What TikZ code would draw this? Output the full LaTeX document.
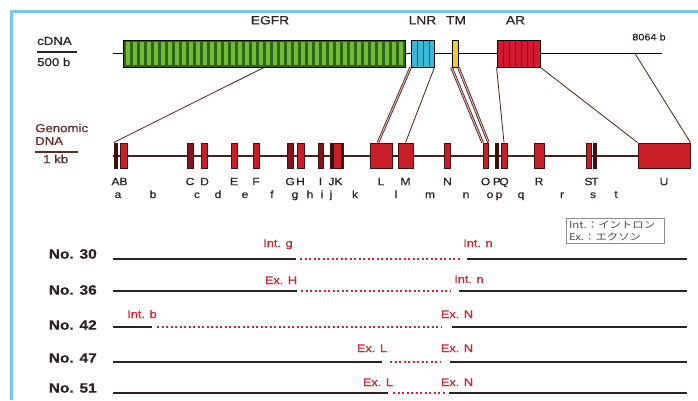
\documentclass[tikz,border=0pt]{standalone}
\usepackage{fontspec}
\setmainfont{Liberation Sans}[FakeStretch=1.15, FakeBold=0.5]
\newfontfamily\jpfont{Noto Sans CJK JP}[FakeStretch=1.2]
\usepackage{tikz}
\usetikzlibrary{positioning, calc}
\definecolor{frameBlue}{RGB}{115, 200, 240}
\definecolor{textDark}{RGB}{45, 35, 35}
\definecolor{textBrown}{RGB}{95, 45, 40}
\definecolor{egfrDark}{RGB}{45, 105, 20}
\definecolor{egfrLight}{RGB}{115, 185, 55}
\definecolor{lnrCyan}{RGB}{55, 185, 215}
\definecolor{lnrLine}{RGB}{25, 85, 120}
\definecolor{tmYellow}{RGB}{235, 205, 50}
\definecolor{arRed}{RGB}{210, 25, 50}
\definecolor{arLine}{RGB}{130, 10, 30}
\definecolor{exonRed}{RGB}{200, 30, 40}
\definecolor{exonMid}{RGB}{130, 20, 30}
\definecolor{exonDark}{RGB}{60, 15, 15}
\definecolor{exonEdge}{RGB}{70, 15, 15}
\definecolor{linkBrown}{RGB}{70, 35, 25}
\definecolor{labelRed}{RGB}{200, 40, 50}

\begin{document}
\begin{tikzpicture}[
    x=1pt, y=-1pt,
    sidelab/.style={font=\fontsize{11.5}{13}\selectfont, text=textDark, inner sep=0pt, anchor=west},
    genelab/.style={font=\fontsize{12}{14}\selectfont, text=textDark, inner sep=0pt, text height=8.6pt, text depth=0pt},
    exlab/.style={font=\fontsize{10.5}{12}\selectfont, text=textDark, inner sep=0pt, text height=7.5pt, text depth=0pt},
    inlab/.style={font=\fontsize{10.5}{12}\selectfont, text=textDark, inner sep=0pt, anchor=base},
    rowlab/.style={font=\bfseries\fontsize{13.5}{15}\selectfont, text=textDark, inner sep=0pt, anchor=east},
    redlab/.style={font=\fontsize{11}{13}\selectfont, text=labelRed, inner sep=0pt, text height=8pt, text depth=2pt},
    cbox/.style={rectangle, draw=black, line width=0.9pt, minimum height=27pt, inner sep=0pt},
    exon/.style={rectangle, draw=exonEdge, fill=exonRed, line width=0.9pt, minimum height=25pt, inner sep=0pt},
    midexon/.style={exon, fill=exonMid},
    darkexon/.style={exon, fill=exonDark},
    link/.style={draw=linkBrown, line width=0.8pt},
    dlink/.style={link, double=exonRed!35, double distance=1pt},
    solidseg/.style={draw=textDark, line width=2.2pt},
    dotseg/.style={draw=labelRed, line width=1.5pt, dash pattern=on 2pt off 2.5pt}
  ]
    \useasboundingbox (0,0) rectangle (698,400);
    \fill[white] (0,0) rectangle (698,400);
    \draw[frameBlue, line width=3pt] (11.5,400) -- (11.5,11.5) -- (698,11.5);

    % cDNA
    \node[sidelab] (cdnaLab) at (37,41) {cDNA};
    \draw[textDark, line width=1.3pt] (37,52) -- (77,52);
    \node[sidelab] (cdnaScale) at (37,62) {500 b};
    \coordinate (cdnaStart) at (113,53.5);
    \coordinate (cdnaEnd) at (662,53.5);
    \coordinate (utr) at (635,53.5);
    \draw[black, line width=1pt] (cdnaStart) -- (cdnaEnd);
    \node[cbox, fill=egfrDark, minimum width=282pt] (egfr) at (264,53.5) {};
    \foreach \x in {126,133,...,399} \fill[egfrLight] (\x,42) rectangle (\x+3.5,65);
    \node[cbox, fill=lnrCyan, minimum width=23pt] (lnr) at (422.5,53.5) {};
    \foreach \x in {417,423,429} \draw[lnrLine, line width=0.8pt] (\x,41) -- (\x,66);
    \node[cbox, fill=tmYellow, minimum width=6pt] (tm) at (455,53.5) {};
    \node[cbox, fill=arRed, minimum width=43pt] (ar) at (518.5,53.5) {};
    \foreach \x in {503.5,509.5,...,535} \draw[arLine, line width=0.9pt] (\x,41) -- (\x,66);

    \node[genelab, above=15pt of egfr, xshift=6pt] (tEGFR) {EGFR};
    \node[genelab, above=15pt of lnr] (tLNR) {LNR};
    \node[genelab, above=15pt of tm, xshift=1pt] (tTM) {TM};
    \node[genelab, above=15pt of ar, xshift=-3pt] (tAR) {AR};
    \node[font=\fontsize{9.5}{11}\selectfont, text=textDark, inner sep=0pt] (tLen) at (649,37) {8064 b};

    % genomic DNA
    \node[sidelab, text=textBrown] (genLab) at (35,128) {Genomic};
    \node[sidelab, text=textBrown] (dnaLab) at (35,141) {DNA};
    \draw[textBrown, line width=1.3pt] (35,152) -- (78,152);
    \node[sidelab, text=textBrown] (genScale) at (43,159) {1 kb};
    \coordinate (gStart) at (113,156);
    \coordinate (gEnd) at (638,156);
    \draw[linkBrown, line width=1.2pt] (gStart) -- (gEnd);

    \node[darkexon, minimum width=3pt] (eA) at (115.5,155.5) {};
    \node[exon, minimum width=7pt] (eB) at (123.5,155.5) {};
    \node[midexon, minimum width=6pt] (eC) at (190,155.5) {};
    \node[exon, minimum width=6pt] (eD) at (204.5,155.5) {};
    \node[exon, minimum width=6pt] (eE) at (234,155.5) {};
    \node[exon, minimum width=6pt] (eF) at (256,155.5) {};
    \node[midexon, minimum width=6pt] (eG) at (290,155.5) {};
    \node[exon, minimum width=7pt] (eH) at (300.5,155.5) {};
    \node[midexon, minimum width=5pt] (eI) at (320.5,155.5) {};
    \node[darkexon, minimum width=3pt] (eJ) at (331.5,155.5) {};
    \node[exon, minimum width=10pt] (eK) at (338.5,155.5) {};
    \fill[exonDark] ($(eK.north east)+(-3,0)$) rectangle (eK.south east);
    \node[exon, minimum width=22pt] (eL) at (381,155.5) {};
    \node[exon, minimum width=15pt] (eM) at (405.5,155.5) {};
    \node[exon, minimum width=6pt] (eN) at (447.5,155.5) {};
    \node[exon, minimum width=5pt] (eO) at (485.5,155.5) {};
    \node[darkexon, minimum width=3pt] (eP) at (497,155.5) {};
    \node[exon, minimum width=6pt] (eQ) at (504,155.5) {};
    \node[exon, minimum width=10pt] (eR) at (539,155.5) {};
    \node[exon, minimum width=5pt] (eS) at (588.5,155.5) {};
    \node[darkexon, minimum width=3pt] (eT) at (595,155.5) {};
    \node[exon, minimum width=52pt] (eU) at (664,155.5) {};

    \foreach \e in {A,...,U} \node[exlab, below=9pt of e\e] (l\e) {\e};
    \foreach \t/\x in {a/118,b/153,c/197,d/218,e/245,f/272,g/295,h/310,i/322,j/331,k/355,l/396,m/430,n/466,o/490,p/499,q/521,r/562,s/593,t/616}
      \node[inlab] (i\t) at (\x,198) {\t};

    % cDNA to genome
    \draw[link] (egfr.south) -- (eA.north west);
    \draw[dlink] (lnr.south west) -- ($(eL.north)+(-3,0)$);
    \draw[link] (lnr.south east) -- (eM.north);
    \draw[dlink] (tm.south west) -- (eO.north west);
    \draw[dlink] (tm.south east) -- (eO.north east);
    \draw[link] (ar.south west) -- (eQ.north);
    \draw[link] (ar.south east) -- (eU.north west);
    \draw[link] (utr) -- (eU.north east);

    % legend
    \node[draw=black!45, line width=0.8pt, fill=white, text=black!70, align=left, inner sep=3pt,
          text width=92pt, font=\jpfont\fontsize{9.5}{11.5}\selectfont] (key) at (615,231)
      {Int.：イントロン\\Ex.：エクソン};

    % clones
    \node[rowlab] (n30) at (97,254) {No. 30};
    \draw[solidseg] (113,259) -- (296,259);
    \draw[dotseg] (300,259) -- (462,259);
    \draw[solidseg] (467,259) -- (687,259);
    \node[redlab] (r30a) at (278,244) {Int. g};
    \node[redlab] (r30b) at (478,244) {Int. n};

    \node[rowlab] (n36) at (97,290) {No. 36};
    \draw[solidseg] (113,291) -- (297,291);
    \draw[dotseg] (301,291) -- (451,291);
    \draw[solidseg] (459,291) -- (687,291);
    \node[redlab] (r36a) at (281,281) {Ex. H};
    \node[redlab] (r36b) at (469,280) {Int. n};

    \node[rowlab] (n42) at (97,325) {No. 42};
    \draw[solidseg] (113,327) -- (152,327);
    \draw[dotseg] (157,327) -- (441,327);
    \draw[solidseg] (452,327) -- (687,327);
    \node[redlab] (r42a) at (142,315) {Int. b};
    \node[redlab] (r42b) at (457,315) {Ex. N};

    \node[rowlab] (n47) at (97,358) {No. 47};
    \draw[solidseg] (113,362) -- (382,362);
    \draw[dotseg] (390,362) -- (441,362);
    \draw[solidseg] (450,362) -- (687,362);
    \node[redlab] (r47a) at (372,349) {Ex. L};
    \node[redlab] (r47b) at (457,349) {Ex. N};

    \node[rowlab] (n51) at (97,388) {No. 51};
    \draw[solidseg] (113,393) -- (388,393);
    \draw[dotseg] (393,393) -- (445,393);
    \draw[solidseg] (449,393) -- (687,393);
    \node[redlab] (r51a) at (378,383) {Ex. L};
    \node[redlab] (r51b) at (457,383) {Ex. N};
  \end{tikzpicture}
\end{document}
